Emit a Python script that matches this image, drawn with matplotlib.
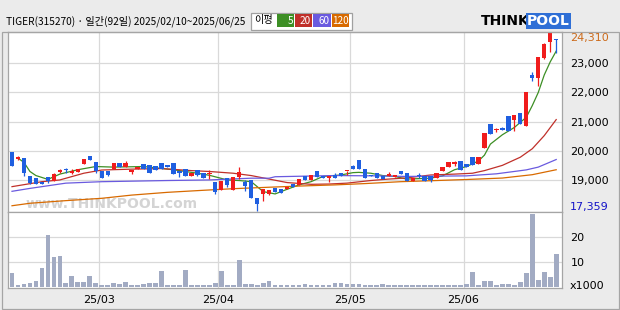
import matplotlib
matplotlib.use("Agg")
import matplotlib.pyplot as plt
from matplotlib.patches import Rectangle
from matplotlib.ticker import FuncFormatter

plt.rcParams['font.family'] = ['DejaVu Sans', 'Noto Sans CJK KR']

# daily candles, 2025/02/10 ~ 2025/06/25 (92 trading days)
opens = [19950, 19710, 19760, 19140, 19070, 18940, 19100, 18980, 19280, 19340,
         19250, 19280, 19530, 19830, 19620, 19310, 19310, 19370, 19590, 19430,
         19260, 19390, 19550, 19520, 19480, 19590, 19500, 19590, 19290, 19370,
         19150, 19340, 19230, 19220, 18930, 18670, 19070, 18670, 19100, 18930,
         19000, 18380, 18520, 18530, 18720, 18690, 18680, 18860, 18830, 19150,
         19010, 19290, 19120, 19050, 19180, 19230, 19290, 19470, 19690, 19380,
         19170, 19230, 19150, 19120, 19100, 19290, 19230, 18980, 19170, 19150,
         19150, 19080, 19290, 19460, 19530, 19660, 19540, 19770, 19540, 20090,
         20920, 20700, 20770, 21180, 21070, 21290, 20860, 22600, 22480, 23170,
         23730, 23850]
highs = [19960, 19830, 19760, 19140, 19070, 18940, 19100, 19230, 19370, 19400,
         19370, 19360, 19720, 19830, 19620, 19310, 19310, 19590, 19590, 19640,
         19340, 19460, 19550, 19520, 19480, 19590, 19520, 19590, 19290, 19370,
         19230, 19340, 19230, 19330, 18930, 18980, 19070, 19100, 19460, 19000,
         19000, 18380, 18680, 18660, 18720, 18690, 18770, 18860, 19030, 19150,
         19170, 19290, 19120, 19120, 19250, 19230, 19300, 19500, 19690, 19380,
         19170, 19230, 19150, 19280, 19180, 19290, 19230, 19080, 19250, 19150,
         19150, 19230, 19460, 19630, 19660, 19660, 19540, 19770, 19800, 20610,
         20920, 20780, 20830, 21180, 21230, 21290, 22030, 22700, 23230, 23690,
         24030, 23850]
lows = [19490, 19690, 19150, 18860, 18850, 18870, 18890, 18980, 19230, 19230,
        19210, 19280, 19530, 19700, 19230, 19060, 19140, 19370, 19430, 19430,
        19220, 19390, 19370, 19250, 19340, 19390, 19430, 19220, 19110, 19120,
        19150, 19140, 19050, 19030, 18530, 18670, 18770, 18670, 19030, 18610,
        18390, 17940, 18280, 18470, 18600, 18550, 18680, 18770, 18830, 19010,
        19010, 19100, 19080, 18930, 19080, 19140, 19160, 19360, 19360, 19050,
        19140, 19080, 19020, 19120, 19100, 19220, 18980, 18980, 19050, 18980,
        18940, 19080, 19290, 19460, 19480, 19350, 19430, 19520, 19540, 20090,
        20570, 20630, 20720, 20690, 20690, 20920, 20860, 22380, 22220, 23140,
        23390, 23340]
closes = [19490, 19800, 19230, 18910, 18850, 18870, 18980, 19210, 19350, 19330,
          19320, 19360, 19720, 19700, 19320, 19070, 19170, 19590, 19430, 19590,
          19340, 19460, 19370, 19250, 19340, 19390, 19430, 19220, 19250, 19140,
          19230, 19170, 19050, 19240, 18570, 18980, 18830, 19100, 19280, 18790,
          18390, 18160, 18680, 18660, 18600, 18550, 18770, 18770, 19030, 19010,
          19170, 19100, 19080, 19120, 19080, 19140, 19300, 19360, 19360, 19050,
          19140, 19080, 19020, 19200, 19180, 19220, 18980, 19080, 19140, 18980,
          19000, 19230, 19460, 19630, 19610, 19350, 19430, 19520, 19800, 20610,
          20570, 20720, 20720, 20690, 21230, 20920, 22030, 22480, 23230, 23650,
          24030, 23790]
# volume, x1000
volumes = [5.3, 0.5, 0.9, 1.3, 2.1, 7.3, 20.7, 11.7, 12.1, 1.3,
           4.1, 1.7, 1.7, 4.1, 1.3, 0.5, 0.5, 1.3, 0.9, 1.7,
           0.5, 0.5, 0.9, 1.3, 1.3, 6.1, 0.5, 0.5, 0.5, 6.5,
           0.5, 0.5, 0.5, 0.5, 1.3, 6.1, 0.5, 0.5, 10.5, 0.9,
           0.9, 0.5, 1.3, 2.1, 0.5, 0.5, 0.5, 0.5, 0.5, 0.9,
           0.5, 0.5, 0.5, 0.5, 1.3, 1.3, 0.9, 0.9, 0.9, 0.5,
           0.5, 0.5, 0.9, 0.5, 0.5, 0.5, 0.5, 0.5, 0.5, 0.5,
           0.5, 0.5, 0.5, 0.5, 0.5, 0.5, 0.9, 5.7, 0.5, 2.1,
           2.1, 0.5, 0.9, 0.9, 0.5, 1.7, 5.3, 29.3, 2.5, 5.7,
           3.7, 12.9]

# moving averages (day index, price)
ma5_x = [1, 2, 3, 4, 6, 8, 11, 14, 17, 22, 27, 31, 33, 36, 38, 40, 42, 44, 46, 48,
         50, 52, 55, 57, 58, 60, 62, 64, 66, 70, 72, 74, 76, 78, 79, 80, 82, 84, 86,
         87, 88, 89, 90, 91]
ma5 = [19750, 19600, 19290, 19150, 19020, 19200, 19350, 19460, 19440, 19460, 19350,
       19230, 19160, 19000, 18980, 18940, 18600, 18520, 18680, 18830, 18940, 19120,
       19170, 19250, 19260, 19230, 19150, 19120, 19030, 19060, 19140, 19350, 19460,
       19650, 19850, 20230, 20550, 20800, 21150, 21550, 22000, 22600, 23050, 23420]
ma20_x = [0, 5, 8, 12, 15, 20, 25, 30, 33, 37, 40, 43, 46, 50, 53, 56, 60, 63, 66,
          70, 74, 77, 79, 82, 85, 87, 89, 91]
ma20 = [18770, 18940, 19000, 19230, 19340, 19370, 19390, 19320, 19290, 19230, 19150,
        19030, 18910, 18850, 18860, 18890, 18980, 19030, 19070, 19170, 19200, 19230,
        19320, 19500, 19780, 20070, 20520, 21070]
ma60_x = [0, 3, 9, 15, 26, 33, 40, 43, 44, 54, 61, 66, 76, 81, 86, 88, 91]
ma60 = [18610, 18710, 18890, 18940, 18980, 19000, 19060, 19060, 19110, 19150, 19140,
        19120, 19140, 19210, 19345, 19440, 19700]
ma120_x = [0, 3, 9, 15, 20, 26, 32, 37, 43, 48, 54, 59, 65, 71, 76, 82, 87, 91]
ma120 = [18115, 18200, 18290, 18370, 18480, 18575, 18645, 18700, 18750, 18790, 18830,
         18875, 18940, 18980, 19015, 19065, 19180, 19350]

month_starts = [15, 35, 57, 76]
month_labels = ['25/03', '25/04', '25/05', '25/06']
price_ticks = [19000, 20000, 21000, 22000, 23000]
vol_ticks = [10, 20]
max_label = '24,310'
min_label = '17,359'
title = 'TIGER(315270) · 일간(92일) 2025/02/10~2025/06/25'
ma_names = ['5', '20', '60', '120']

UP = '#f01c1c'
DOWN = '#1f5fe0'
VOL = '#a2abc3'
GRID = '#d9d9d9'
FRAME = '#a5a5a5'
BG = '#ebebeb'
MA_COLORS = ['#3d8f25', '#c0302a', '#6a5adf', '#d86a00']
KR = ['Noto Sans CJK KR', 'DejaVu Sans']

W, H = 620, 310
fig = plt.figure(figsize=(W / 100, H / 100), dpi=100)
fig.patch.set_facecolor(BG)

ax = fig.add_axes([8 / W, 1 - 212.3 / H, 554 / W, 180.6 / H])
axv = fig.add_axes([8 / W, 1 - 288.3 / H, 554 / W, 76 / H])

n = len(closes)
xs = list(range(n))
grid_x = [m - 0.5 for m in month_starts]

for a in (ax, axv):
    a.set_facecolor('white')
    a.set_xlim(-0.67, 91.97)
    a.set_xticks(grid_x)
    a.grid(True, color=GRID, lw=0.9)
    a.set_axisbelow(True)
    for s in a.spines.values():
        s.set_color(FRAME)
        s.set_linewidth(0.9)
    a.yaxis.tick_right()
    a.tick_params(length=0, labelsize=8, pad=6)

# faint site watermark
ax.text(2.2, 18050, 'www.THINKPOOL.com', color='#d4d4d4', fontsize=10,
        fontweight='bold', zorder=0.5)

# moving averages
for mx, my, col in zip([ma5_x, ma20_x, ma60_x, ma120_x], [ma5, ma20, ma60, ma120], MA_COLORS):
    ax.plot(mx, my, color=col, lw=0.9, zorder=2)

# candles
for i in xs:
    o, h, l, c = opens[i], highs[i], lows[i], closes[i]
    col = UP if c >= o else DOWN
    ax.vlines(i, l, h, color=col, lw=0.9, zorder=3)
    ax.bar(i, max(abs(c - o), 35), bottom=min(o, c), width=0.72, color=col, zorder=4)

ax.set_ylim(17890, 24085)
ax.set_yticks(price_ticks)
ax.yaxis.set_major_formatter(FuncFormatter(lambda v, _: f'{v:,.0f}'))
ax.set_xticklabels([])

axv.bar(xs, volumes, width=0.78, color=VOL, zorder=3)
axv.set_ylim(-0.65, 29.8)
axv.set_yticks(vol_ticks)
axv.set_xticklabels(month_labels)
axv.tick_params(axis='x', pad=5)

# overlay in pixel coordinates for header and extra labels
ov = fig.add_axes([0, 0, 1, 1], facecolor='none')
ov.set_xlim(0, W)
ov.set_ylim(H, 0)
ov.axis('off')

ov.add_patch(Rectangle((1.5, 31.5), 617, 277, fill=False, edgecolor=FRAME, lw=0.9))
ov.text(6, 21, title, ha='left', va='center', fontsize=7.3, family=KR)

# MA legend box
ov.add_patch(Rectangle((251, 12.5), 101, 17, facecolor='white', edgecolor='#a0a0a0', lw=0.9))
ov.text(264, 20.5, '이평', ha='center', va='center', fontsize=7.3, family=KR)
box_x = [276.7, 294.7, 313.3, 332]
box_w = [17.3, 17.3, 17.4, 17.3]
for bx, bw, name, col in zip(box_x, box_w, ma_names, MA_COLORS):
    ov.add_patch(Rectangle((bx, 14.3), bw, 13, facecolor=col, edgecolor='none'))
    ov.text(bx + bw - 1, 20.5, name, ha='right', va='center', color='white',
            fontsize=7.2, family=KR)

# logo
ov.text(481, 21, 'THINK', ha='left', va='center', fontsize=10, fontweight='heavy', color='black')
ov.text(527, 21, 'POOL', ha='left', va='center', fontsize=10, fontweight='heavy', color='white',
        bbox=dict(boxstyle='square,pad=0.1', facecolor='#2f6fd6', edgecolor='none'))

ov.text(570, 38, max_label, ha='left', va='center', fontsize=8, color='#cc6a1a')
ov.text(570, 207, min_label, ha='left', va='center', fontsize=8, color='#1414c8')
ov.text(570, 286, 'x1000', ha='left', va='center', fontsize=8, color='black')

fig.savefig('out.png', dpi=100, facecolor=fig.get_facecolor())
